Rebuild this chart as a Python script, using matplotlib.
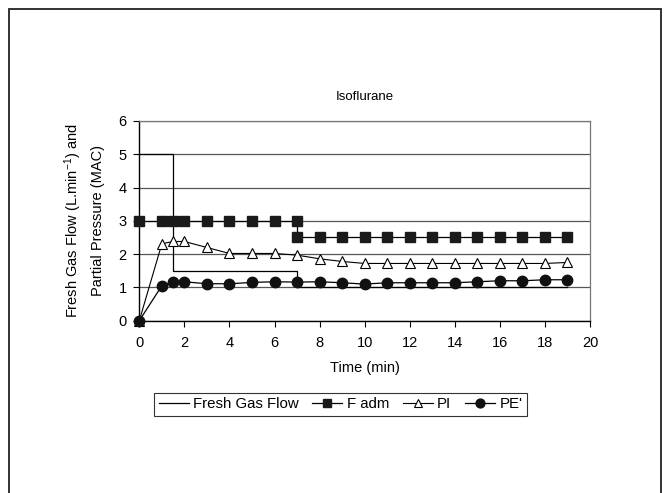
import matplotlib
matplotlib.use("Agg")
import matplotlib.pyplot as plt
from matplotlib.patches import Rectangle

plt.rcParams['font.family'] = ['Liberation Sans', 'DejaVu Sans']
plt.rcParams['mathtext.fontset'] = 'custom'
plt.rcParams['mathtext.rm'] = 'Liberation Sans'
plt.rcParams['mathtext.default'] = 'rm'

# Data
fgf_time = [0, 1.5, 1.5, 7, 7, 19]
fgf_vals = [5, 5, 1.5, 1.5, 1, 1]

fadm_time = [0, 1, 1.5, 2, 3, 4, 5, 6, 7, 7, 8, 9, 10, 11, 12, 13, 14, 15, 16, 17, 18, 19]
fadm_vals = [3, 3, 3, 3, 3, 3, 3, 3, 3, 2.5, 2.5, 2.5, 2.5, 2.5, 2.5, 2.5, 2.5, 2.5, 2.5, 2.5, 2.5, 2.5]

pi_time = [0, 1, 1.5, 2, 3, 4, 5, 6, 7, 8, 9, 10, 11, 12, 13, 14, 15, 16, 17, 18, 19]
pi_vals = [0, 2.31, 2.38, 2.38, 2.2, 2.02, 2.02, 2.02, 1.97, 1.86, 1.78, 1.72, 1.72, 1.72,
           1.72, 1.72, 1.72, 1.72, 1.72, 1.72, 1.75]

pe_time = [0, 1, 1.5, 2, 3, 4, 5, 6, 7, 8, 9, 10, 11, 12, 13, 14, 15, 16, 17, 18, 19]
pe_vals = [0, 1.05, 1.17, 1.17, 1.11, 1.11, 1.15, 1.17, 1.16, 1.17, 1.14, 1.1, 1.14, 1.14,
           1.14, 1.14, 1.17, 1.2, 1.2, 1.23, 1.23]

title = "Isoflurane"
xlabel = "Time (min)"
ylabel = "Fresh Gas Flow (L.min$^{-1}$) and\nPartial Pressure (MAC)"

fig = plt.figure(figsize=(6.67, 4.93), dpi=100)
W, H = 667, 493
ax = fig.add_axes([139.3 / W, 1 - 320.7 / H, (590 - 139.3) / W, (320.7 - 121) / H])

ax.plot(fgf_time, fgf_vals, color='black', lw=0.9, label='Fresh Gas Flow', zorder=3)
ax.plot(fadm_time, fadm_vals, color='black', lw=0.9, marker='s', ms=6.5,
        mfc='#1a1a1a', mec='#1a1a1a', label='F adm', zorder=4)
ax.plot(pi_time, pi_vals, color='black', lw=0.8, marker='^', ms=7.5,
        mfc='white', mec='black', mew=0.8, label='PI', zorder=4)
ax.plot(pe_time, pe_vals, color='black', lw=0.9, marker='o', ms=7.5,
        mfc='#111111', mec='#111111', label="PE'", zorder=5)

ax.set_xlim(0, 20)
ax.set_ylim(0, 6)
ax.set_xticks(range(0, 21, 2))
ax.set_yticks(range(0, 7))
ax.yaxis.grid(True, color='#555555', lw=0.9)
ax.set_axisbelow(True)
for s in ['top', 'right']:
    ax.spines[s].set_color('#777777')
    ax.spines[s].set_linewidth(0.9)
for s in ['left', 'bottom']:
    ax.spines[s].set_color('black')
    ax.spines[s].set_linewidth(1.0)
ax.tick_params(axis='both', direction='out', length=4, width=0.8, labelsize=10.5,
               colors='black', pad=5)
ax.tick_params(axis='x', pad=7)
for l in ax.lines:
    l.set_clip_on(False)

fig.text((139.3 + 590) / 2 / W, 1 - 97 / H, title, ha='center', va='center', fontsize=9.5)
fig.text((139.3 + 590) / 2 / W, 1 - 368 / H, xlabel, ha='center', va='center', fontsize=10.5)
fig.text(84 / W, 1 - 221 / H, ylabel, ha='center', va='center', fontsize=10.5,
         rotation=90, linespacing=1.6)

leg = fig.legend(loc='center', bbox_to_anchor=(340.5 / W, 1 - 404.5 / H), ncol=4,
                 frameon=True, fancybox=False, fontsize=10.8, handlelength=2.0,
                 handletextpad=0.3, columnspacing=0.9, borderpad=0.3, markerscale=0.85)
leg.get_frame().set_edgecolor('black')
leg.get_frame().set_linewidth(0.8)

fig.patches.append(Rectangle((9 / W, -0.05), (661 - 9) / W, 1.05 - 9.5 / H,
                             transform=fig.transFigure, fill=False,
                             edgecolor='#222222', lw=1.3))

fig.savefig('out.png', dpi=100)
